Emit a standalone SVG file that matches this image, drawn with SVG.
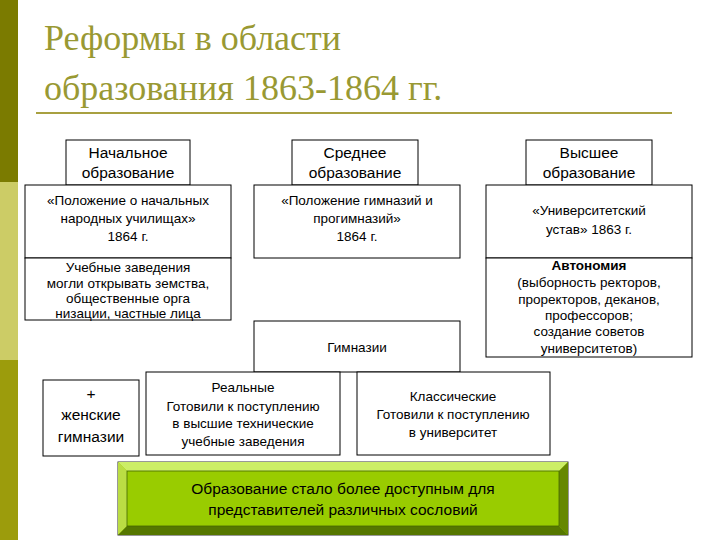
<svg xmlns="http://www.w3.org/2000/svg" width="720" height="540" viewBox="0 0 720 540">
<style>
.b{fill:#fff;stroke:#000;stroke-width:1}
.t{font-family:"Liberation Sans",Arial,sans-serif;font-size:13.5px;fill:#000;text-anchor:middle}
.h{font-size:15.5px}
.ti{font-family:"Liberation Serif","Times New Roman",serif;font-size:36px;fill:#999933}
</style>
<rect width="720" height="540" fill="#fff"/>
<rect x="0" y="0" width="18" height="182" fill="#7b7b00"/>
<rect x="0" y="182" width="18" height="178" fill="#cccc66"/>
<rect x="0" y="360" width="18" height="180" fill="#9c9c0c"/>
<text class="ti" x="44" y="50">Реформы в области</text>
<text class="ti" x="44" y="100">образования 1863-1864 гг.</text>
<rect x="36" y="112" width="636" height="2" fill="#a8a040"/>
<g id="n1"><rect class="b" x="66" y="140" width="124" height="45"/><text class="t h" x="128" y="158">Начальное</text><text class="t h" x="128" y="178">образование</text></g>
<g id="n2"><rect class="b" x="292" y="140" width="126" height="45"/><text class="t h" x="355" y="158">Среднее</text><text class="t h" x="355" y="178">образование</text></g>
<g id="n3"><rect class="b" x="526" y="140" width="126" height="45"/><text class="t h" x="589" y="158">Высшее</text><text class="t h" x="589" y="178">образование</text></g>
<g id="n4"><rect class="b" x="25" y="185" width="206" height="73"/><text class="t" x="128" y="205">«Положение о начальных</text><text class="t" x="128" y="223">народных училищах»</text><text class="t" x="128" y="241">1864 г.</text></g>
<g id="n5"><rect class="b" x="25" y="258" width="206" height="62"/><text class="t" x="128" y="272">Учебные заведения</text><text class="t" x="128" y="288">могли открывать земства,</text><text class="t" x="128" y="303">общественные орга</text><text class="t" x="128" y="318">низации, частные лица</text></g>
<g id="n6"><rect class="b" x="254" y="185" width="206" height="73"/><text class="t" x="357" y="205">«Положение гимназий и</text><text class="t" x="357" y="223">прогимназий»</text><text class="t" x="357" y="241">1864 г.</text></g>
<g id="n7"><rect class="b" x="486" y="185" width="206" height="73"/><text class="t" x="589" y="215">«Университетский</text><text class="t" x="589" y="234">устав» 1863 г.</text></g>
<g id="n8"><rect class="b" x="486" y="258" width="206" height="99"/><text class="t" x="589" y="270" font-weight="bold" font-size="12">Автономия</text><text class="t" x="589" y="287" font-size="12.5">(выборность ректоров,</text><text class="t" x="589" y="304" font-size="12.5">проректоров, деканов,</text><text class="t" x="589" y="320" font-size="12.5">профессоров;</text><text class="t" x="589" y="336" font-size="12.5">создание советов</text><text class="t" x="589" y="353" font-size="12.5">университетов)</text></g>
<g id="n9"><rect class="b" x="254" y="321" width="206" height="51"/><text class="t" x="357" y="352">Гимназии</text></g>
<g id="n10"><rect class="b" x="43" y="380" width="96" height="76"/><text class="t h" x="91" y="399">+</text><text class="t h" x="91" y="420" font-size="16.5">женские</text><text class="t h" x="91" y="442" font-size="16.5">гимназии</text></g>
<g id="n11"><rect class="b" x="146" y="372" width="194" height="83"/><text class="t" x="243" y="392">Реальные</text><text class="t" x="243" y="411">Готовили к поступлению</text><text class="t" x="243" y="428">в высшие технические</text><text class="t" x="243" y="446">учебные заведения</text></g>
<g id="n12"><rect class="b" x="357" y="372" width="193" height="83"/><text class="t" x="453" y="401">Классические</text><text class="t" x="453" y="419">Готовили к поступлению</text><text class="t" x="453" y="437">в университет</text></g>
<g id="n13">
<rect x="118" y="462" width="450" height="73" fill="#99cc00" stroke="#333" stroke-width="1"/>
<polygon points="118,462 568,462 559,471 127,471" fill="#ccee66"/>
<polygon points="118,462 127,471 127,526 118,535" fill="#bbdd44"/>
<polygon points="568,462 568,535 559,526 559,471" fill="#668800"/>
<polygon points="118,535 127,526 559,526 568,535" fill="#557700"/>
<rect x="127" y="471" width="432" height="55" fill="#99cc00" stroke="#446600" stroke-width="0.8"/>
<text class="t h" x="343" y="494">Образование стало более доступным для</text>
<text class="t h" x="343" y="515">представителей различных сословий</text>
</g>
<g id="connectors"></g>
</svg>
